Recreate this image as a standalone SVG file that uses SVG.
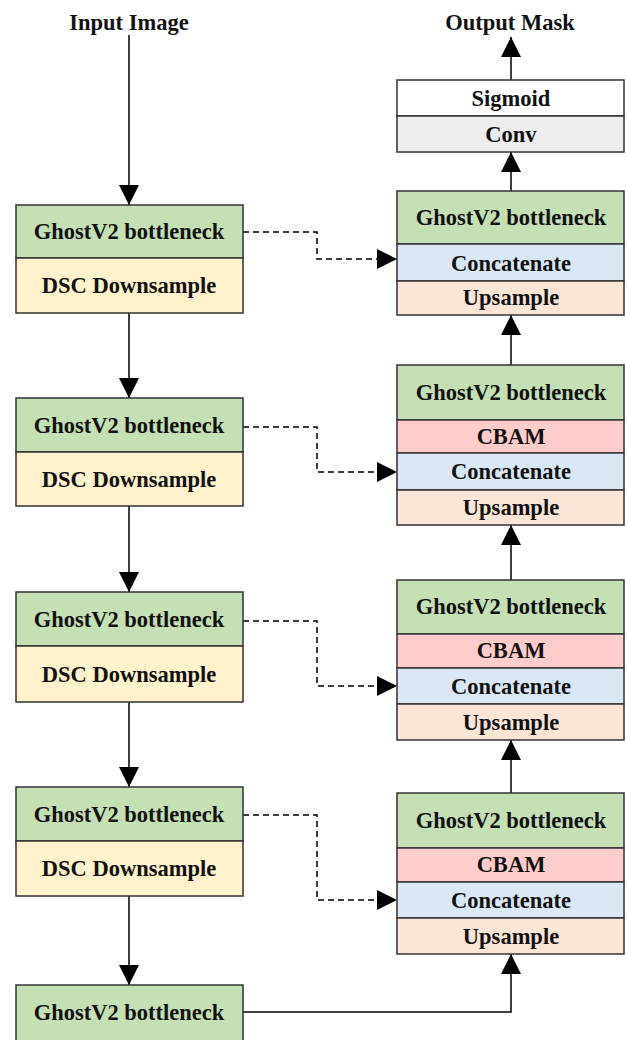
<svg xmlns="http://www.w3.org/2000/svg" width="627" height="1040" viewBox="0 0 627 1040">
<style>
text{font-family:"Liberation Serif","Times New Roman",serif;font-weight:bold;font-size:22.5px;fill:#111;text-anchor:middle;dominant-baseline:central}
rect{stroke:#333;stroke-width:1.5}
.g{fill:#c5e0b4}.y{fill:#fff2cc}.b{fill:#dae8f5}.o{fill:#fbe5d6}.p{fill:#ffcccc}.w{fill:#fff}.gr{fill:#ededed}
.c{fill:none;stroke:#000;stroke-width:1.5}
.d{fill:none;stroke:#000;stroke-width:1.5;stroke-dasharray:6,4}
</style>
<defs>
<marker id="ah" markerWidth="20" markerHeight="20" viewBox="0 0 20 20" refX="20" refY="10" orient="auto" markerUnits="userSpaceOnUse"><path d="M0,0 L20,10 L0,20 Z" fill="#000"/></marker>
</defs>
<rect x="0" y="0" width="627" height="1040" fill="#fff" style="stroke:none"/>
<text x="129" y="22">Input Image</text>
<text x="510" y="22">Output Mask</text>
<g id="connectors">
<path class="c" d="M129,35 V205" marker-end="url(#ah)"/>
<path class="c" d="M129,313 V398" marker-end="url(#ah)"/>
<path class="c" d="M129,506 V592" marker-end="url(#ah)"/>
<path class="c" d="M129,702 V787" marker-end="url(#ah)"/>
<path class="c" d="M129,896 V985" marker-end="url(#ah)"/>
<path class="c" d="M243,1012 H511 V954" marker-end="url(#ah)"/>
<path class="c" d="M511,793 V740" marker-end="url(#ah)"/>
<path class="c" d="M511,580 V525" marker-end="url(#ah)"/>
<path class="c" d="M511,365 V315" marker-end="url(#ah)"/>
<path class="c" d="M511,191 V152" marker-end="url(#ah)"/>
<path class="c" d="M511,80 V37" marker-end="url(#ah)"/>
<path class="d" d="M243,232 H317 V259 H397" marker-end="url(#ah)"/>
<path class="d" d="M243,427 H317 V472 H397" marker-end="url(#ah)"/>
<path class="d" d="M243,621 H317 V686 H397" marker-end="url(#ah)"/>
<path class="d" d="M243,815 H317 V900 H397" marker-end="url(#ah)"/>
</g>
<g id="enc1"><rect class="g" x="16" y="205" width="227" height="53"/><text x="129" y="231">GhostV2 bottleneck</text><rect class="y" x="16" y="258" width="227" height="55"/><text x="129" y="285">DSC Downsample</text></g>
<g id="enc2"><rect class="g" x="16" y="398" width="227" height="54"/><text x="129" y="425">GhostV2 bottleneck</text><rect class="y" x="16" y="452" width="227" height="54"/><text x="129" y="479">DSC Downsample</text></g>
<g id="enc3"><rect class="g" x="16" y="592" width="227" height="54"/><text x="129" y="619">GhostV2 bottleneck</text><rect class="y" x="16" y="646" width="227" height="56"/><text x="129" y="674">DSC Downsample</text></g>
<g id="enc4"><rect class="g" x="16" y="787" width="227" height="54"/><text x="129" y="814">GhostV2 bottleneck</text><rect class="y" x="16" y="841" width="227" height="55"/><text x="129" y="868">DSC Downsample</text></g>
<g id="enc5"><rect class="g" x="16" y="985" width="227" height="60"/><text x="129" y="1012">GhostV2 bottleneck</text></g>
<g id="head"><rect class="w" x="397" y="80" width="227" height="36"/><text x="511" y="98">Sigmoid</text><rect class="gr" x="397" y="116" width="227" height="36"/><text x="511" y="134">Conv</text></g>
<g id="dec1"><rect class="g" x="397" y="191" width="227" height="53"/><text x="511" y="217">GhostV2 bottleneck</text><rect class="b" x="397" y="244" width="227" height="37"/><text x="511" y="263">Concatenate</text><rect class="o" x="397" y="281" width="227" height="34"/><text x="511" y="297">Upsample</text></g>
<g id="dec2"><rect class="g" x="397" y="365" width="227" height="55"/><text x="511" y="392">GhostV2 bottleneck</text><rect class="p" x="397" y="420" width="227" height="33"/><text x="511" y="436">CBAM</text><rect class="b" x="397" y="453" width="227" height="37"/><text x="511" y="471">Concatenate</text><rect class="o" x="397" y="490" width="227" height="35"/><text x="511" y="507">Upsample</text></g>
<g id="dec3"><rect class="g" x="397" y="580" width="227" height="54"/><text x="511" y="606">GhostV2 bottleneck</text><rect class="p" x="397" y="634" width="227" height="34"/><text x="511" y="650">CBAM</text><rect class="b" x="397" y="668" width="227" height="36"/><text x="511" y="686">Concatenate</text><rect class="o" x="397" y="704" width="227" height="36"/><text x="511" y="722">Upsample</text></g>
<g id="dec4"><rect class="g" x="397" y="793" width="227" height="55"/><text x="511" y="820">GhostV2 bottleneck</text><rect class="p" x="397" y="848" width="227" height="34"/><text x="511" y="864">CBAM</text><rect class="b" x="397" y="882" width="227" height="36"/><text x="511" y="900">Concatenate</text><rect class="o" x="397" y="918" width="227" height="36"/><text x="511" y="936">Upsample</text></g>
</svg>
